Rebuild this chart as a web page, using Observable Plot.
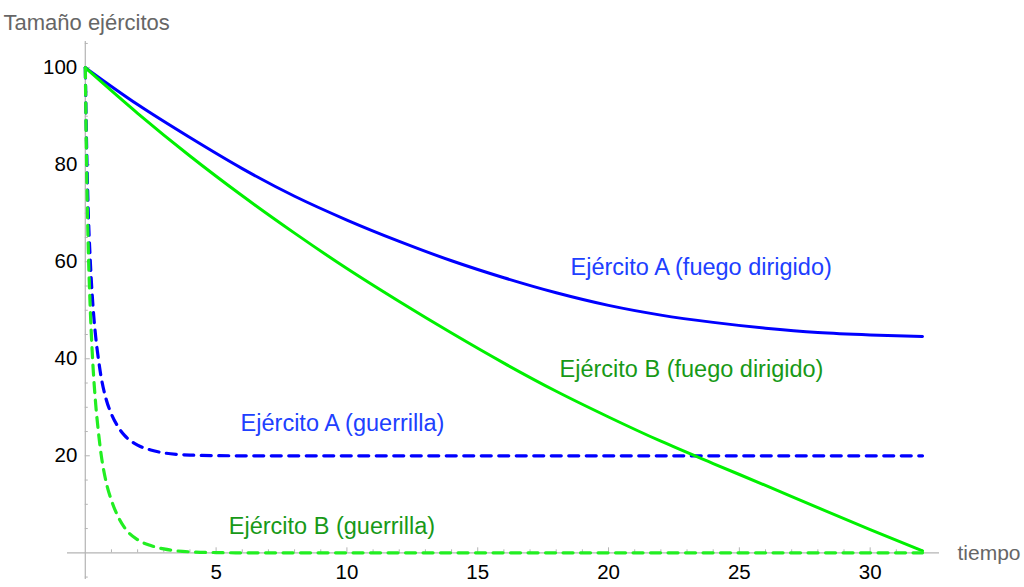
<!DOCTYPE html>
<html>
<head>
<meta charset="utf-8">
<script src="https://cdn.jsdelivr.net/npm/d3@7"></script>
<script src="https://cdn.jsdelivr.net/npm/@observablehq/plot@0.6"></script>
<style>
  html, body { margin: 0; padding: 0; background: #fff; }
</style>
</head>
<body>
<div id="chart"></div>
<script>
// Directed fire (fuego dirigido)
const tDir = [0, 2, 4, 6, 8, 10, 12, 14, 16, 18, 20, 22, 24, 26, 28, 30, 32];
const aDir = [100, 92.4, 85.6, 79.2, 73.5, 68.6, 64.2, 60.2, 56.7, 53.6, 51.0, 49.0, 47.5, 46.3, 45.4, 44.9, 44.6];
const bDir = [100, 90.6, 81.8, 73.6, 65.9, 58.6, 51.8, 45.3, 39.1, 33.3, 28.0, 23.0, 18.4, 13.9, 9.3, 4.8, 0.4];

// Guerrilla
const tGue = [0, 0.05, 0.1, 0.2, 0.3, 0.4, 0.5, 0.6, 0.8, 1.0, 1.25, 1.5, 2, 2.5, 3, 3.5, 4, 5, 6, 8, 32];
const aGue = [100, 84, 72.8, 59.2, 50.4, 44.4, 40, 36.4, 31.6, 28.6, 26, 24.2, 22.2, 21.2, 20.6, 20.3, 20.15, 20.04, 20, 20, 20];
const bGue = [100, 80, 66, 49, 38, 30.5, 25, 20.5, 14.5, 10.8, 7.5, 5.2, 2.7, 1.5, 0.8, 0.4, 0.2, 0.05, 0, 0, 0];

// Tick labels
const xTicks = [5, 10, 15, 20, 25, 30];
const yTicks = [20, 40, 60, 80, 100];

// Curve labels
const labels = [
  {text: "Ejército A (fuego dirigido)", t: 23.54, v: 58.9, color: "#2040ff"},
  {text: "Ejército B (fuego dirigido)", t: 23.17, v: 37.7, color: "#179917"},
  {text: "Ejército A (guerrilla)", t: 9.83, v: 26.6, color: "#2040ff"},
  {text: "Ejército B (guerrilla)", t: 9.43, v: 5.5, color: "#179917"}
];

const series = (ts, vs) => ts.map((t, i) => ({t, v: vs[i]}));
const xMinor = d3.range(1, 33).filter(d => !xTicks.includes(d));
const yMinor = d3.range(-5, 106, 5).filter(d => d !== 0 && !yTicks.includes(d));

const axisColor = "#b4b4b4";
const dash = "10,7.5";

const chart = Plot.plot({
  width: 1024,
  height: 587,
  marginLeft: 67,
  marginRight: 85,
  marginTop: 41,
  marginBottom: 8,
  x: {domain: [-0.68, 32.65], axis: null},
  y: {domain: [-5.5, 105.4], axis: null},
  style: {fontFamily: "'Liberation Sans', Arial, Helvetica, sans-serif", background: "white", overflow: "visible"},
  marks: [
    Plot.ruleY([0], {stroke: axisColor, strokeWidth: 1.2}),
    Plot.ruleX([0], {stroke: axisColor, strokeWidth: 1.2}),
    Plot.ruleX(xTicks, {x: d => d, y1: 0, y2: 0, insetTop: -5, stroke: axisColor}),
    Plot.ruleX(xMinor, {x: d => d, y1: 0, y2: 0, insetTop: -3, stroke: axisColor}),
    Plot.ruleY(yTicks, {y: d => d, x1: 0, x2: 0, insetRight: -5, stroke: axisColor}),
    Plot.ruleY(yMinor, {y: d => d, x1: 0, x2: 0, insetRight: -3, stroke: axisColor}),
    Plot.text(xTicks, {x: d => d, y: 0, dy: 20, text: d => String(d), fontSize: 20.5, fill: "#000"}),
    Plot.text(yTicks, {x: 0, y: d => d, dx: -8, textAnchor: "end", text: d => String(d), fontSize: 20.5, fill: "#000"}),
    Plot.text([{label: "tiempo", v: 0}], {y: "v", text: "label", frameAnchor: "right", textAnchor: "start", dx: 18, fontSize: 21, fill: "#666"}),
    Plot.text([{label: "Tamaño ejércitos"}], {text: "label", frameAnchor: "top-left", textAnchor: "start", dx: -64, dy: -27, fontSize: 22, fill: "#666"}),
    Plot.line(series(tGue, aGue), {x: "t", y: "v", stroke: "#0000ff", strokeWidth: 3.2, strokeDasharray: dash, curve: "monotone-x"}),
    Plot.line(series(tDir, aDir), {x: "t", y: "v", stroke: "#0000ff", strokeWidth: 3, curve: "monotone-x"}),
    Plot.line(series(tDir, bDir), {x: "t", y: "v", stroke: "#00f000", strokeWidth: 3, curve: "monotone-x"}),
    Plot.line(series(tGue, bGue), {x: "t", y: "v", stroke: "#22ee22", strokeWidth: 3.2, strokeDasharray: dash, curve: "monotone-x"}),
    Plot.text(labels, {x: "t", y: "v", text: "text", fill: "color", fontSize: 23.5})
  ]
});
document.getElementById("chart").appendChild(chart);
</script>
</body>
</html>
